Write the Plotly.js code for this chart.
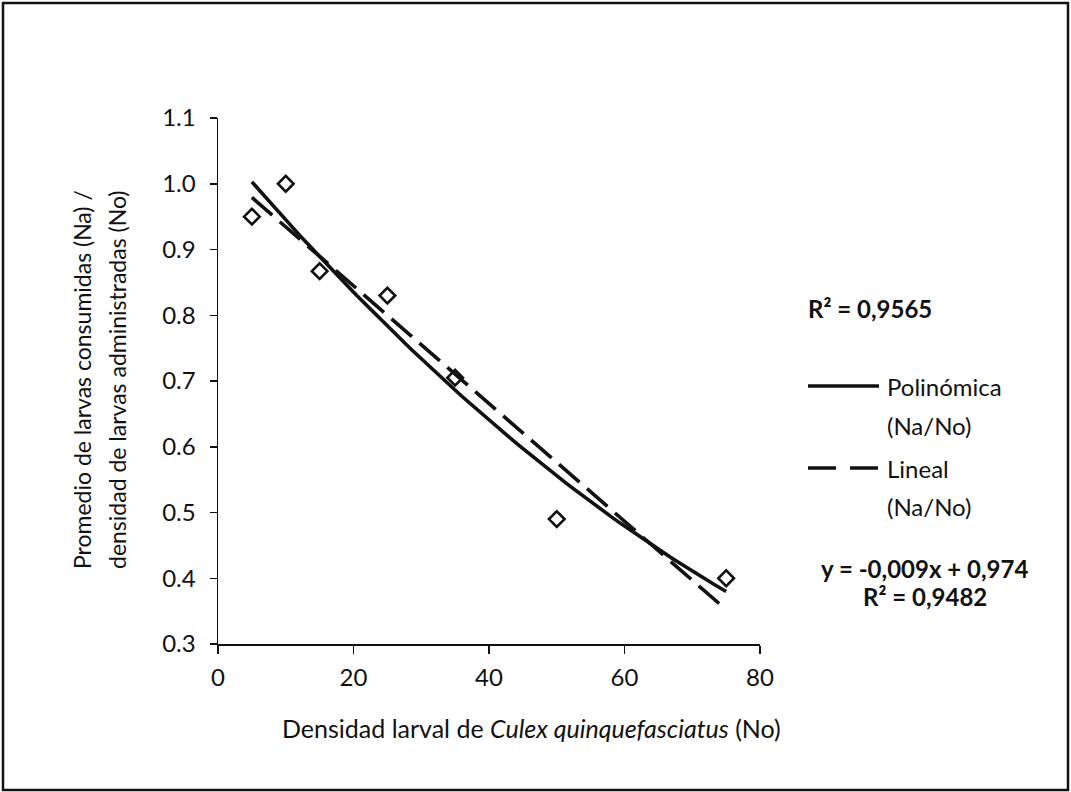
<!DOCTYPE html>
<html>
<head>
<meta charset="utf-8">
<script src="https://cdn.plot.ly/plotly-3.0.1.min.js"></script>
<style>
  html, body { margin: 0; padding: 0; background: #fff; }
  #chart { width: 1071px; height: 792px; }
</style>
</head>
<body>
<div id="chart"></div>
<script>
// Densidad larval (No) y proporción consumida (Na/No)
const densidad = [5, 10, 15, 25, 35, 50, 75];
const proporcion = [0.95, 1.0, 0.867, 0.83, 0.705, 0.49, 0.4];

const xTickVals = [0, 20, 40, 60, 80];
const yTickVals = [0.3, 0.4, 0.5, 0.6, 0.7, 0.8, 0.9, 1.0, 1.1];

const textoR2Poli = 'R² = 0,9565';
const textoEcLineal = 'y = -0,009x + 0,974';
const textoR2Lineal = 'R² = 0,9482';
const leyendaPoli = ['Polinómica', '(Na/No)'];
const leyendaLineal = ['Lineal', '(Na/No)'];

// Least-squares fit of a polynomial of the given degree
function polyFit(xs, ys, deg) {
  const n = deg + 1;
  const A = Array.from({length: n}, () => new Array(n + 1).fill(0));
  for (let k = 0; k < xs.length; k++) {
    for (let i = 0; i < n; i++) {
      for (let j = 0; j < n; j++) A[i][j] += Math.pow(xs[k], i + j);
      A[i][n] += ys[k] * Math.pow(xs[k], i);
    }
  }
  for (let i = 0; i < n; i++) {
    let p = i;
    for (let r = i + 1; r < n; r++) if (Math.abs(A[r][i]) > Math.abs(A[p][i])) p = r;
    [A[i], A[p]] = [A[p], A[i]];
    for (let r = 0; r < n; r++) {
      if (r === i) continue;
      const f = A[r][i] / A[i][i];
      for (let c = i; c <= n; c++) A[r][c] -= f * A[i][c];
    }
  }
  return A.map((row, i) => row[n] / row[i]);
}
function evalPoly(c, x) { return c.reduce((s, ci, i) => s + ci * Math.pow(x, i), 0); }

const xMin = Math.min(...densidad), xMax = Math.max(...densidad);
const xs = [];
for (let i = 0; i <= 80; i++) xs.push(xMin + (xMax - xMin) * i / 80);
const cPoli = polyFit(densidad, proporcion, 2);
const cLin = polyFit(densidad, proporcion, 1);

const FONT = 'Lato, "Open Sans", "Liberation Sans", sans-serif';
const INK = '#111';
const FS = 24;

// plot area in pixels
const L = 218, R = 760, T = 118, B = 644;
const px = v => (v - L) / (R - L);
const py = v => (B - v) / (B - T);

const traces = [
  {
    x: xs, y: xs.map(x => evalPoly(cPoli, x)),
    mode: 'lines', name: 'Polinómica (Na/No)',
    line: {color: INK, width: 3.6}, showlegend: false, hoverinfo: 'skip'
  },
  {
    x: xs, y: xs.map(x => evalPoly(cLin, x)),
    mode: 'lines', name: 'Lineal (Na/No)',
    line: {color: INK, width: 3.6, dash: '27px,10px'}, showlegend: false, hoverinfo: 'skip'
  },
  {
    x: densidad, y: proporcion, mode: 'markers', name: 'Na/No',
    marker: {symbol: 'diamond-open', size: 12, color: INK, line: {width: 2.6, color: INK}},
    showlegend: false
  }
];

function txt(text, xPix, yPix, opts) {
  return Object.assign({
    text: text, xref: 'paper', yref: 'paper', x: px(xPix), y: py(yPix),
    xanchor: 'left', yanchor: 'middle', showarrow: false,
    font: {family: FONT, size: FS, color: INK}
  }, opts || {});
}

const annotations = [
  // y axis title, two lines
  txt('Promedio de larvas consumidas (Na) /', 82, 380, {xanchor: 'center', textangle: -90, font: {family: FONT, size: 23, color: INK}}),
  txt('densidad de larvas administradas (No)', 117, 380, {xanchor: 'center', textangle: -90, font: {family: FONT, size: 23, color: INK}}),
  // x axis title
  txt('Densidad larval de <i>Culex quinquefasciatus</i> (No)', 531, 728, {xanchor: 'center', font: {family: FONT, size: 25, color: INK}}),
  // polynomial fit
  txt('<b>' + textoR2Poli + '</b>', 806, 308),
  txt(leyendaPoli[0], 885, 386),
  txt(leyendaPoli[1], 885, 425),
  txt(leyendaLineal[0], 885, 468),
  txt(leyendaLineal[1], 885, 507),
  txt('<b>' + textoEcLineal + '</b>', 924, 568, {xanchor: 'center'}),
  txt('<b>' + textoR2Lineal + '</b>', 925, 596, {xanchor: 'center'})
];

const shapes = [
  // outer frame
  {type: 'rect', xref: 'paper', yref: 'paper', x0: px(3), x1: px(1068), y0: py(790), y1: py(3),
   line: {color: INK, width: 2.5}, fillcolor: 'rgba(0,0,0,0)'},
  // legend samples
  {type: 'line', xref: 'paper', yref: 'paper', x0: px(808), x1: px(879), y0: py(386), y1: py(386),
   line: {color: INK, width: 3.6}},
  {type: 'line', xref: 'paper', yref: 'paper', x0: px(808), x1: px(879), y0: py(468), y1: py(468),
   line: {color: INK, width: 3.6, dash: '28px,14px'}}
];

const layout = {
  width: 1071, height: 792,
  margin: {l: L, r: 1071 - R, t: T, b: 792 - B, pad: 0},
  paper_bgcolor: '#fff', plot_bgcolor: '#fff',
  font: {family: FONT, size: FS, color: INK},
  showlegend: false,
  xaxis: {
    range: [0, 80], tickvals: xTickVals, ticktext: xTickVals.map(String),
    showgrid: false, zeroline: false, showline: true, linecolor: INK, linewidth: 1.5,
    ticks: 'outside', ticklen: 8, tickwidth: 1.5, tickcolor: INK,
    ticklabelstandoff: 4, tickfont: {family: FONT, size: FS, color: INK}
  },
  yaxis: {
    range: [0.3, 1.1], tickvals: yTickVals, ticktext: yTickVals.map(v => v.toFixed(1)),
    showgrid: false, zeroline: false, showline: true, linecolor: INK, linewidth: 1.5,
    ticks: 'outside', ticklen: 7, tickwidth: 1.5, tickcolor: INK,
    ticklabelstandoff: 9, tickfont: {family: FONT, size: FS, color: INK}
  },
  annotations: annotations,
  shapes: shapes
};

Plotly.newPlot('chart', traces, layout, {staticPlot: true, displayModeBar: false});
</script>
</body>
</html>
